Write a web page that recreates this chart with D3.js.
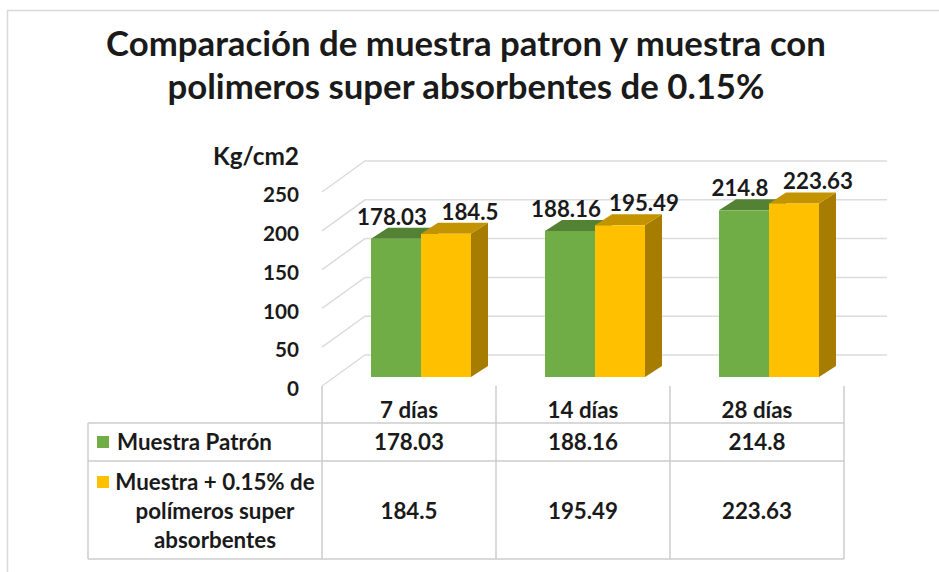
<!DOCTYPE html>
<html>
<head>
<meta charset="utf-8">
<script src="https://cdn.jsdelivr.net/npm/d3@7"></script>
<style>
  body { margin: 0; background: #fff; }
  svg text { font-family: Lato, "Open Sans", sans-serif; fill: #1a1a1a; }
</style>
</head>
<body>
<svg id="chart" width="939" height="572"></svg>
<script>
// chart data
var titleLines = ["Comparación de muestra patron y muestra con", "polimeros super absorbentes de 0.15%"];
var unitLabel = "Kg/cm2";
var categories = ["7 días", "14 días", "28 días"];
var patronValues = [178.03, 188.16, 214.8];
var polimeroValues = [184.5, 195.49, 223.63];
var seriesNames = ["Muestra Patrón", "Muestra + 0.15% de polímeros super absorbentes"];
var seriesLines = [["Muestra Patrón"], ["Muestra + 0.15% de", "polímeros super", "absorbentes"]];
var yTicks = [0, 50, 100, 150, 200, 250];

var svg = d3.select('#chart');

// face colours: front, top, side
var colors = [
  { front: '#70ad47', top: '#548235', side: '#4e7a31' },
  { front: '#ffc000', top: '#c49400', side: '#a67d00' }
];

// 3d geometry of the plot
var depth = { x: 43, y: -31 };      // depth of the walls
var barShift = { x: 12, y: -9 };    // where the bar front sits inside the depth
var barDepth = { x: 17, y: -11 };
var barWidth = 50;

var xScale = d3.scaleBand().domain(categories).range([322, 844]).padding(0);
var yScale = d3.scaleLinear().domain([0, 250]).range([386, 192]);

// find the font size that gives a text a certain width
function fitSize(txt, weight, target) {
  var t = svg.append('text').style('font-size', '100px').style('font-weight', weight).text(txt);
  var w = t.node().getComputedTextLength();
  t.remove();
  return 100 * target / w;
}

// outer border
svg.append('rect')
  .attr('x', 7.5).attr('y', 10.5).attr('width', 940).attr('height', 570)
  .attr('fill', 'none').attr('stroke', '#d9d9d9').attr('stroke-width', 1.5);

// title
var titleSize = fitSize(titleLines[0], 700, 720);
svg.selectAll('.title')
  .data(titleLines)
  .enter().append('text')
  .attr('class', 'title')
  .attr('x', 466)
  .attr('y', (d, i) => 56 + i * 43)
  .attr('text-anchor', 'middle')
  .style('font-size', titleSize + 'px')
  .style('font-weight', 700)
  .text(d => d);

// gridlines: side wall diagonal + back wall
var grid = svg.append('g').attr('stroke', '#dcdcdc').attr('stroke-width', 1.5).attr('fill', 'none');
var x0 = xScale.range()[0], x1 = xScale.range()[1];
grid.selectAll('path')
  .data(yTicks)
  .enter().append('path')
  .attr('d', d => 'M' + x0 + ',' + yScale(d) +
                  'L' + (x0 + depth.x) + ',' + (yScale(d) + depth.y) +
                  'L' + (x1 + depth.x) + ',' + (yScale(d) + depth.y));

// y axis tick labels
var tickSize = fitSize('250', 700, 36);
svg.selectAll('.ytick')
  .data(yTicks)
  .enter().append('text')
  .attr('class', 'ytick')
  .attr('x', 299)
  .attr('y', d => yScale(d) + 3)
  .attr('dy', '0.35em')
  .attr('text-anchor', 'end')
  .style('font-size', tickSize + 'px')
  .style('font-weight', 700)
  .text(d => d);

svg.append('text')
  .attr('x', 299).attr('y', 165)
  .attr('text-anchor', 'end')
  .style('font-size', fitSize(unitLabel, 700, 86) + 'px')
  .style('font-weight', 700)
  .text(unitLabel);

// bars
var series = [patronValues, polimeroValues];
var bars = [];
categories.forEach(function(c, ci) {
  series.forEach(function(vals, si) {
    bars.push({ cat: c, si: si, value: vals[ci] });
  });
});

function barGeom(d) {
  var left = xScale(d.cat) + xScale.bandwidth() / 2 - barWidth + d.si * barWidth + barShift.x;
  var bottom = yScale(0) + barShift.y;
  var top = yScale(d.value) + barShift.y;
  return { l: left, r: left + barWidth, b: bottom, t: top };
}
function pts(arr) { return arr.map(p => p.join(',')).join(' '); }

var barG = svg.append('g');
bars.forEach(function(d) {
  var g = barGeom(d);
  var col = colors[d.si];
  // side
  barG.append('polygon')
    .attr('points', pts([[g.r, g.b], [g.r + barDepth.x, g.b + barDepth.y], [g.r + barDepth.x, g.t + barDepth.y], [g.r, g.t]]))
    .attr('fill', col.side);
  // top
  barG.append('polygon')
    .attr('points', pts([[g.l, g.t], [g.r, g.t], [g.r + barDepth.x, g.t + barDepth.y], [g.l + barDepth.x, g.t + barDepth.y]]))
    .attr('fill', col.top);
  // front
  barG.append('rect')
    .attr('x', g.l).attr('y', g.t)
    .attr('width', barWidth).attr('height', g.b - g.t)
    .attr('fill', col.front);
});

// data labels above the bars
var labelSize = fitSize('178.03', 700, 70);
var labelShift = [-4, 24];
svg.selectAll('.dlabel')
  .data(bars)
  .enter().append('text')
  .attr('class', 'dlabel')
  .attr('x', d => { var g = barGeom(d); return (g.l + g.r) / 2 + labelShift[d.si]; })
  .attr('y', d => barGeom(d).t + barDepth.y - 3)
  .attr('text-anchor', 'middle')
  .style('font-size', labelSize + 'px')
  .style('font-weight', 700)
  .text(d => d.value);

// data table
var tableLeft = 88, headBottom = 423, row1Bottom = 461, tableBottom = 559;
var tbl = svg.append('g').attr('stroke', '#cccccc').attr('stroke-width', 1.5);
[headBottom, row1Bottom, tableBottom].forEach(function(y) {
  tbl.append('line').attr('x1', tableLeft).attr('x2', x1).attr('y1', y).attr('y2', y);
});
tbl.append('line').attr('x1', tableLeft).attr('x2', tableLeft).attr('y1', headBottom).attr('y2', tableBottom);
var edges = categories.map(c => xScale(c)).concat([x1]);
tbl.selectAll('.vline')
  .data(edges)
  .enter().append('line')
  .attr('x1', d => d).attr('x2', d => d)
  .attr('y1', yScale(0)).attr('y2', tableBottom);

var tableSize = fitSize(seriesLines[0][0], 700, 155);

// header
svg.selectAll('.cat')
  .data(categories)
  .enter().append('text')
  .attr('class', 'cat')
  .attr('x', d => xScale(d) + xScale.bandwidth() / 2)
  .attr('y', 410)
  .attr('dy', '0.35em')
  .attr('text-anchor', 'middle')
  .style('font-size', tableSize + 'px')
  .style('font-weight', 700)
  .text(d => d);

// rows
var rowCenters = [442, 511];
series.forEach(function(vals, si) {
  svg.selectAll('.val' + si)
    .data(vals)
    .enter().append('text')
    .attr('x', (d, i) => xScale(categories[i]) + xScale.bandwidth() / 2)
    .attr('y', rowCenters[si])
    .attr('dy', '0.35em')
    .attr('text-anchor', 'middle')
    .style('font-size', tableSize + 'px')
    .style('font-weight', 700)
    .text(d => d);
});

// row headers with legend keys
svg.append('rect').attr('x', 97).attr('y', 436).attr('width', 12).attr('height', 12).attr('fill', colors[0].front);
svg.append('text')
  .attr('x', 117).attr('y', 442).attr('dy', '0.35em')
  .style('font-size', tableSize + 'px').style('font-weight', 700)
  .text(seriesLines[0][0]);

svg.append('rect').attr('x', 97).attr('y', 476).attr('width', 12).attr('height', 12).attr('fill', colors[1].front);
svg.selectAll('.leg2')
  .data(seriesLines[1])
  .enter().append('text')
  .attr('x', 215)
  .attr('y', (d, i) => 482 + i * 29)
  .attr('dy', '0.35em')
  .attr('text-anchor', 'middle')
  .style('font-size', tableSize + 'px').style('font-weight', 700)
  .text(d => d);
</script>
</body>
</html>
